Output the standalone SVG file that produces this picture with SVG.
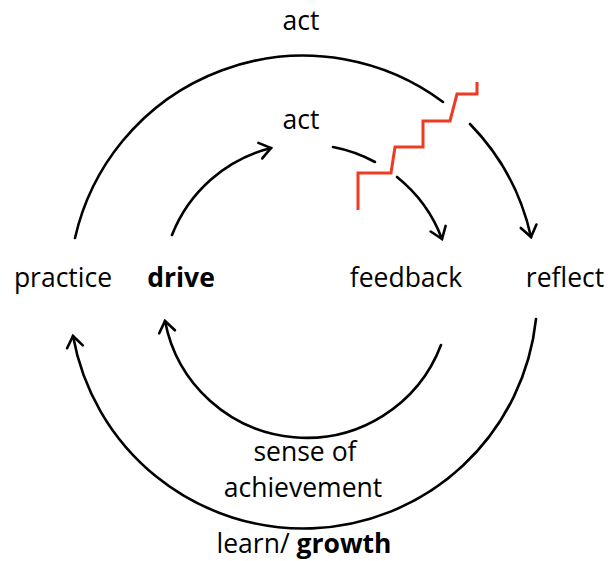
<svg xmlns="http://www.w3.org/2000/svg" width="608" height="561" viewBox="0 0 608 561">
<style>
text{font-family:"Open Sans","Noto Sans",sans-serif;font-size:26.5px;fill:#000;text-anchor:middle}
.b{font-weight:bold}
.arc{fill:none;stroke:#000;stroke-width:2.6;stroke-linecap:round}
.ah{marker-end:url(#arr)}
</style>
<defs>
<marker id="arr" markerUnits="userSpaceOnUse" markerWidth="30" markerHeight="30" viewBox="-15 -15 30 30" refX="0" refY="0" orient="auto">
<path d="M-11,-8 L0,0 L-11,8" fill="none" stroke="#000" stroke-width="2.6" stroke-linecap="round" stroke-linejoin="miter"/>
</marker>
</defs>
<g id="connectors">
<path class="arc" d="M75,238 A234,234 0 0 1 443,102"/>
<path class="arc ah" d="M470,124 A234,234 0 0 1 531,237"/>
<path class="arc ah" d="M536,319 A234,234 0 0 1 73,336"/>
<path class="arc ah" d="M172,235 A144,144 0 0 1 271,148"/>
<path class="arc" d="M333,147 A144,144 0 0 1 375,162"/>
<path class="arc ah" d="M397,177 A144,144 0 0 1 442,239"/>
<path class="arc ah" d="M441,345 A144,144 0 0 1 165,321"/>
</g>
<g id="staircase">
<polyline points="358,210 358,173 391,173 395,147 423,147 423,121 450,121 457,94 477,94 477,82" fill="none" stroke="#ee3b24" stroke-width="3"/>
</g>
<g id="n-act-outer"><text x="301" y="30">act</text></g>
<g id="n-act-inner"><text x="301" y="129">act</text></g>
<g id="n-practice"><text x="63" y="287">practice</text></g>
<g id="n-drive"><text class="b" x="181" y="287">drive</text></g>
<g id="n-feedback"><text x="406" y="287">feedback</text></g>
<g id="n-reflect"><text x="565" y="287">reflect</text></g>
<g id="n-sense"><text x="305" y="461">sense of</text><text x="303" y="497">achievement</text></g>
<g id="n-learn"><text x="304" y="553">learn/ <tspan class="b">growth</tspan></text></g>
</svg>
